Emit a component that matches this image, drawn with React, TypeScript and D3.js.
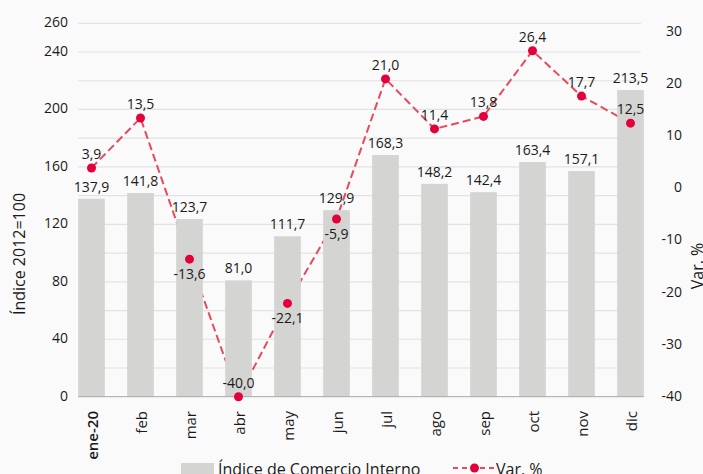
import React from "react";
import * as d3 from "d3";

// chart data
const months = ["ene-20", "feb", "mar", "abr", "may", "jun", "jul", "ago", "sep", "oct", "nov", "dic"];
const indexValues = [137.9, 141.8, 123.7, 81.0, 111.7, 129.9, 168.3, 148.2, 142.4, 163.4, 157.1, 213.5];
const varValues = [3.9, 13.5, -13.6, -40.0, -22.1, -5.9, 21.0, 11.4, 13.8, 26.4, 17.7, 12.5];
const leftTicks = [0, 40, 80, 120, 160, 200, 240, 260];
const rightTicks = [-40, -30, -20, -10, 0, 10, 20, 30];

// labels of the line that go under the marker
const belowLabels = ["mar", "may", "jun"];

const W = 703;
const H = 474;
const FONT = "'Open Sans', sans-serif";
const TEXT = "#1a1a1a";

// comma decimals, plain hyphen for negatives
const fmt = (v: number) => v.toFixed(1).replace(".", ",");

export default function App() {
  const x = d3.scaleBand<string>().domain(months).range([67, 655]).paddingInner(0.455).paddingOuter(0.2275);
  const yL = d3.scaleLinear().domain([0, 260]).range([396.7, 23.3]);
  const yR = d3.scaleLinear().domain([-40, 30]).range([396.7, 32]);
  const cx = (m: string) => (x(m) ?? 0) + x.bandwidth() / 2;

  const gridStart = x(months[0]) ?? 0;
  const gridEnd = (x(months[months.length - 1]) ?? 0) + x.bandwidth();

  const line = d3
    .line<number>()
    .x((_, i) => cx(months[i]))
    .y((d) => yR(d));

  return (
    <svg width={W} height={H} style={{ position: "absolute", left: 0, top: 0, background: "#fafafa" }} fontFamily={FONT}>
      {/* gridlines */}
      {d3.range(20, 261, 20).map((v) => (
        <line key={v} x1={gridStart} x2={gridEnd - 3} y1={yL(v)} y2={yL(v)} stroke="#e2e2e2" strokeWidth={1.2} />
      ))}

      {/* left axis labels */}
      {leftTicks.map((v) => (
        <text key={v} x={68} y={yL(v) + 4} textAnchor="end" fontSize={14} fill={TEXT}>
          {v}
        </text>
      ))}
      {/* right axis labels */}
      {rightTicks.map((v) => (
        <text key={v} x={682} y={yR(v) + 4} textAnchor="end" fontSize={14} fill={TEXT}>
          {v}
        </text>
      ))}

      {/* axis titles */}
      <text transform={`translate(25,254) rotate(-90)`} textAnchor="middle" fontSize={16} fill={TEXT}>
        Índice 2012=100
      </text>
      <text transform={`translate(703,266) rotate(-90)`} textAnchor="middle" fontSize={16} fill={TEXT}>
        Var. %
      </text>

      {/* variation line (under the bars) */}
      <path d={line(varValues) ?? ""} fill="none" stroke="#e8495e" strokeWidth={2} strokeDasharray="8,4" />

      {/* bars */}
      {months.map((m, i) => (
        <rect key={m} x={x(m)} y={yL(indexValues[i])} width={x.bandwidth()} height={yL(0) - yL(indexValues[i])} fill="#d4d5d3" />
      ))}
      <line x1={gridStart} x2={gridEnd} y1={yL(0)} y2={yL(0)} stroke="#a8a8a8" strokeWidth={1} />

      {/* bar labels */}
      {months.map((m, i) => (
        <text key={m} x={cx(m)} y={yL(indexValues[i]) - 7} textAnchor="middle" fontSize={14} fill={TEXT}>
          {fmt(indexValues[i])}
        </text>
      ))}

      {/* markers and labels */}
      {months.map((m, i) => (
        <circle key={m} cx={cx(m)} cy={yR(varValues[i])} r={4.5} fill="#e4003b" />
      ))}
      {months.map((m, i) => (
        <text
          key={m}
          x={cx(m)}
          y={yR(varValues[i]) + (belowLabels.includes(m) ? 20 : -9)}
          textAnchor="middle"
          fontSize={14}
          fill={TEXT}
        >
          {fmt(varValues[i])}
        </text>
      ))}

      {/* x labels */}
      {months.map((m, i) => (
        <text
          key={m}
          transform={`translate(${cx(m) + 6},411) rotate(-90)`}
          textAnchor="end"
          fontSize={15}
          fontWeight={i === 0 ? 600 : 400}
          fill={TEXT}
        >
          {m}
        </text>
      ))}

      {/* legend */}
      <rect x={181} y={463} width={33} height={12} fill="#d4d5d3" />
      <text x={218} y={475} fontSize={16} fill={TEXT}>
        Índice de Comercio Interno
      </text>
      <line x1={453} x2={495} y1={468} y2={468} stroke="#e8495e" strokeWidth={2} strokeDasharray="5,4" />
      <circle cx={474.5} cy={468} r={4.5} fill="#e4003b" />
      <text x={496} y={475} fontSize={16} fill={TEXT}>
        Var. %
      </text>
    </svg>
  );
}
